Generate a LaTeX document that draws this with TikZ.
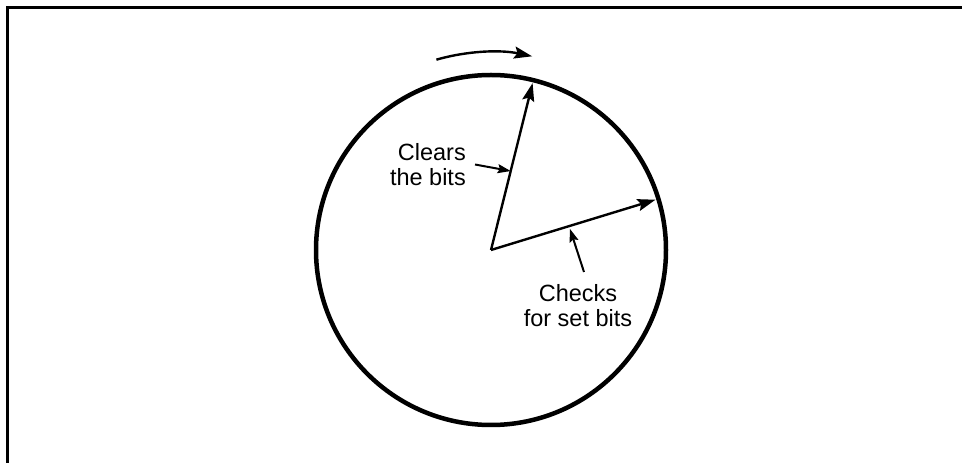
\documentclass[tikz,border=0pt]{standalone}
\usepackage{fontspec}
\setmainfont{Liberation Sans}
\usetikzlibrary{arrows.meta,calc}
\begin{document}
\begin{tikzpicture}[x=1pt,y=1pt,
  ptr/.style={line width=2.4pt,-{Stealth[length=18pt,width=12pt,inset=3pt]}},
  lblarrow/.style={line width=2pt,-{Stealth[length=13pt,width=9pt,inset=2pt]}},
  lbl/.style={font=\fontsize{23.5}{25}\selectfont, inner sep=0pt},
]
\useasboundingbox (0,0) rectangle (962,466);
\draw[line width=3pt] (7,3) -- (7,458) -- (962,458);
\coordinate (c) at (491,216);
\draw[line width=4.5pt] (c) circle[radius=175];
\coordinate (t1) at ([shift={(76:172)}]c);
\coordinate (t2) at ([shift={(17:172)}]c);
\draw[ptr] (c) -- (t1);
\draw[ptr] (c) -- (t2);
\coordinate (rs) at ([shift={(106:198)}]c);
\draw[ptr] (rs) arc[start angle=106, end angle=78, radius=198];
\node[lbl, align=right, anchor=east] (clears) at (466,301.5) {Clears\\the bits};
\node[lbl, align=center] (checks) at (578,160.5) {Checks\\for set bits};
\draw[lblarrow] ([xshift=9pt]clears.east) -- ($(c)!0.473!(t1)$);
\coordinate (a2s) at (584,194);
\draw[lblarrow] (a2s) -- ([yshift=-3pt]$(c)!0.48!(t2)$);
\end{tikzpicture}
\end{document}
